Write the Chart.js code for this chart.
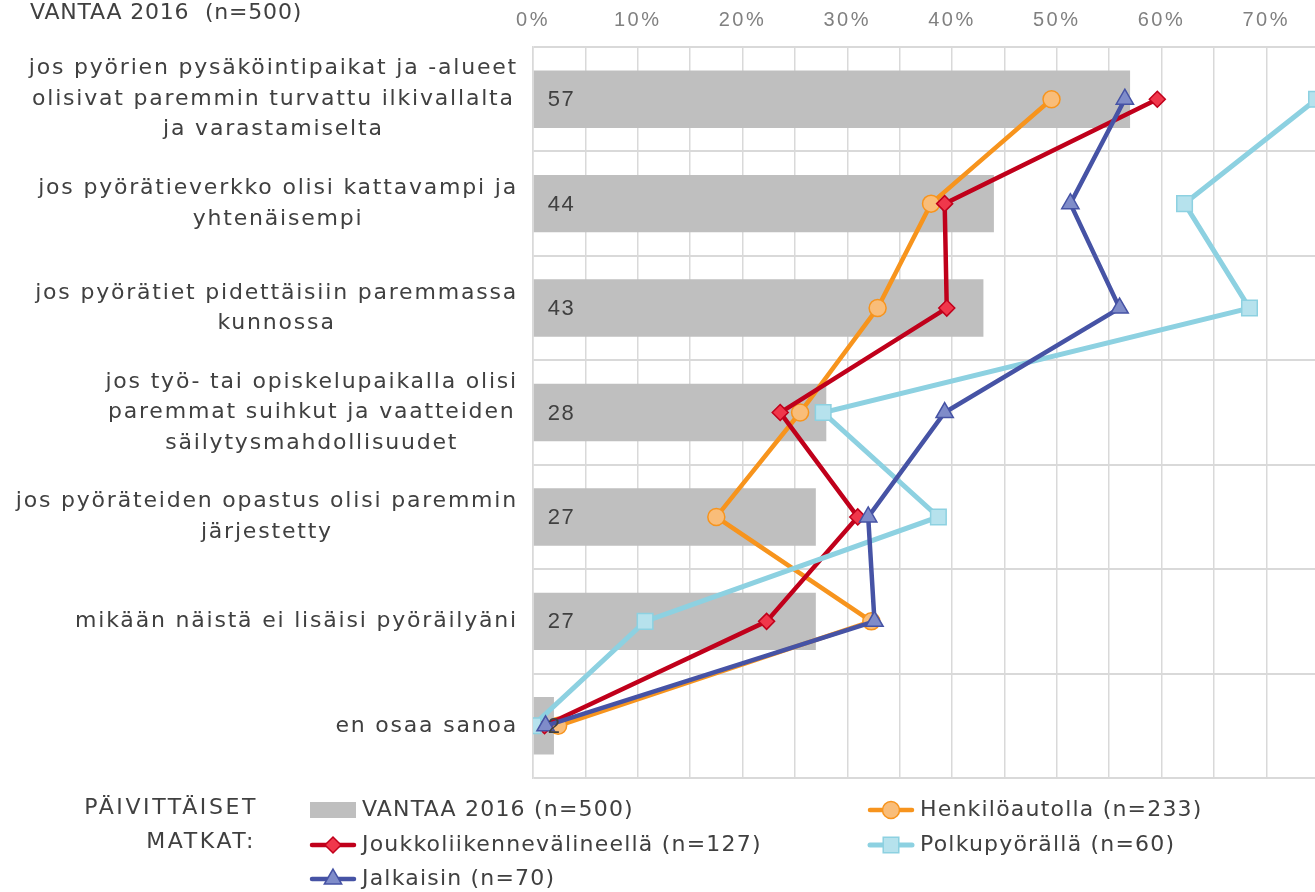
<!DOCTYPE html>
<html>
<head>
<meta charset="utf-8">
<script src="https://cdn.jsdelivr.net/npm/chart.js@4/dist/chart.umd.min.js"></script>
<style>
  html, body { margin: 0; padding: 0; background: #fff; overflow: hidden; }
  #wrap { position: relative; width: 1315px; height: 892px; overflow: hidden; }
  canvas { position: absolute; left: 0; top: 0; }
</style>
</head>
<body>
<div id="wrap"><canvas id="chart" width="1386" height="892"></canvas></div>
<script>
// --- DATA ---
const categories = [
    ['jos pyörien pysäköintipaikat ja -alueet', 'olisivat paremmin turvattu ilkivallalta', 'ja varastamiselta'],
    ['jos pyörätieverkko olisi kattavampi ja', 'yhtenäisempi'],
    ['jos pyörätiet pidettäisiin paremmassa', 'kunnossa'],
    ['jos työ- tai opiskelupaikalla olisi', 'paremmat suihkut ja vaatteiden', 'säilytysmahdollisuudet'],
    ['jos pyöräteiden opastus olisi paremmin', 'järjestetty'],
    ['mikään näistä ei lisäisi pyöräilyäni'],
    ['en osaa sanoa']
];
const vantaa = [57, 44, 43, 28, 27, 27, 2];
const henkiloautolla = [49.5, 38.0, 32.9, 25.5, 17.5, 32.3, 2.4];
const joukkoliikenne = [59.6, 39.3, 39.5, 23.6, 31.0, 22.3, 1.1];
const polkupyoralla = [74.8, 62.2, 68.4, 27.7, 38.7, 10.7, 0];
const jalkaisin = [56.5, 51.3, 56.0, 39.3, 32.0, 32.6, 1.2];
const xTicks = [0, 10, 20, 30, 40, 50, 60, 70];

const TEXT = '#404040';
const FONT = '"DejaVu Sans", sans-serif';

// --- PLUGINS ---
// wide tracking for the axis tick labels drawn by Chart.js
const tracking = {
    id: 'tracking',
    beforeDraw(chart) { chart.ctx.letterSpacing = '2.5px'; },
    beforeDatasetsDraw(chart) { chart.ctx.letterSpacing = '0px'; }
};

// category labels: block right-aligned to the axis, lines centered inside the block
const categoryLabels = {
    id: 'categoryLabels',
    afterDraw(chart) {
        const ctx = chart.ctx;
        const yScale = chart.scales.y;
        ctx.save();
        ctx.font = '22px ' + FONT;
        ctx.letterSpacing = '1.8px';
        ctx.fillStyle = TEXT;
        ctx.textAlign = 'center';
        ctx.textBaseline = 'middle';
        categories.forEach((lines, i) => {
            const blockW = Math.max(...lines.map(l => ctx.measureText(l).width));
            const cx = 518 - blockW / 2;
            const cy = yScale.getPixelForValue(i);
            lines.forEach((line, j) => {
                ctx.fillText(line, cx, cy + (j - (lines.length - 1) / 2) * 30.5);
            });
        });
        // title at top-left
        ctx.letterSpacing = '0.8px';
        ctx.textAlign = 'left';
        ctx.textBaseline = 'alphabetic';
        ctx.fillText('VANTAA 2016  (n=500)', 30, 19);
        ctx.restore();
    }
};

// value labels inside the grey bars
const barValues = {
    id: 'barValues',
    afterDatasetsDraw(chart) {
        const ctx = chart.ctx;
        const meta = chart.getDatasetMeta(0);
        ctx.save();
        ctx.font = '22px "Liberation Sans", sans-serif';
        ctx.letterSpacing = '1.5px';
        ctx.fillStyle = TEXT;
        ctx.textAlign = 'left';
        ctx.textBaseline = 'middle';
        meta.data.forEach((bar, i) => {
            ctx.fillText(String(vantaa[i]), bar.base + 14, bar.y + 1);
        });
        ctx.restore();
    }
};

// legend in two columns with a caption on the left
const customLegend = {
    id: 'customLegend',
    afterDraw(chart) {
        const ctx = chart.ctx;
        const ds = chart.data.datasets;
        const slots = [[310, 810], [868, 810], [310, 845], [868, 845], [310, 879]];
        ctx.save();
        ctx.font = '22px ' + FONT;
        ctx.letterSpacing = '2.6px';
        ctx.fillStyle = TEXT;
        ctx.textAlign = 'right';
        ctx.textBaseline = 'middle';
        ctx.fillText('PÄIVITTÄISET', 258, 808);
        ctx.fillText('MATKAT:', 256, 842);

        ctx.letterSpacing = '1.2px';
        ds.forEach((d, i) => {
            const [x, y] = slots[i];
            if (d.type === 'bar') {
                ctx.fillStyle = d.backgroundColor;
                ctx.fillRect(x, y - 8, 46, 16);
            } else {
                ctx.strokeStyle = d.borderColor;
                ctx.lineWidth = d.borderWidth;
                ctx.lineCap = 'round';
                ctx.beginPath();
                ctx.moveTo(x + 2, y);
                ctx.lineTo(x + 44, y);
                ctx.stroke();
                ctx.fillStyle = d.pointBackgroundColor;
                ctx.strokeStyle = d.pointBorderColor;
                ctx.lineWidth = d.pointBorderWidth;
                Chart.helpers.drawPoint(ctx, {
                    pointStyle: d.pointStyle, radius: d.pointRadius, rotation: 0, borderWidth: d.pointBorderWidth
                }, x + 23, y);
            }
            ctx.fillStyle = TEXT;
            ctx.textAlign = 'left';
            ctx.fillText(d.label, x + 52, y);
        });
        ctx.restore();
    }
};

function lineSet(label, data, line, fill, border, style, radius, width, order) {
    return {
        type: 'line', label: label, data: data, order: order,
        borderColor: line, borderWidth: width, tension: 0, fill: false,
        pointStyle: style, pointRadius: radius, pointHoverRadius: radius,
        pointBackgroundColor: fill, pointBorderColor: border, pointBorderWidth: 1.5
    };
}

new Chart(document.getElementById('chart'), {
    data: {
        labels: categories.map((c, i) => i),
        datasets: [
            {
                type: 'bar', label: 'VANTAA 2016 (n=500)', data: vantaa, order: 10,
                backgroundColor: '#bfbfbf', barPercentage: 0.55, categoryPercentage: 1
            },
            lineSet('Henkilöautolla (n=233)', henkiloautolla, '#f7941d', '#f9bd79', '#f7941d', 'circle', 8.5, 4.5, 4),
            lineSet('Joukkoliikennevälineellä (n=127)', joukkoliikenne, '#c0001b', '#f0374b', '#c0001b', 'rectRot', 8, 4.5, 3),
            lineSet('Polkupyörällä (n=60)', polkupyoralla, '#8dd1e1', '#b6e2ed', '#8dd1e1', 'rect', 11, 5, 2),
            lineSet('Jalkaisin (n=70)', jalkaisin, '#4653a5', '#7f8cc9', '#4653a5', 'triangle', 10, 4.5, 1)
        ]
    },
    options: {
        indexAxis: 'y',
        responsive: false,
        animation: false,
        devicePixelRatio: 1,
        layout: { padding: { left: 0, top: 0, right: 9, bottom: 114 } },
        plugins: { legend: { display: false }, tooltip: { enabled: false } },
        scales: {
            x: {
                type: 'linear', position: 'top', min: 0, max: 80,
                afterFit: scale => { scale.height = 47; },
                afterBuildTicks: scale => {
                    scale.ticks = [];
                    for (let v = 0; v <= 80; v += 5) scale.ticks.push({ value: v });
                },
                grid: { color: '#d9d9d9', lineWidth: 1.5, drawTicks: false },
                border: { display: false },
                ticks: {
                    autoSkip: false, padding: 15, color: '#808080',
                    font: { family: '"Liberation Sans", sans-serif', size: 20 },
                    callback: v => xTicks.includes(v) ? v + '%' : ''
                }
            },
            y: {
                type: 'category', offset: true,
                afterFit: scale => { scale.width = 533; },
                grid: { offset: true, color: '#d9d9d9', lineWidth: 2, drawTicks: false },
                border: { color: '#d9d9d9', width: 1.5 },
                ticks: { display: false }
            }
        }
    },
    plugins: [tracking, categoryLabels, barValues, customLegend]
});
</script>
</body>
</html>
